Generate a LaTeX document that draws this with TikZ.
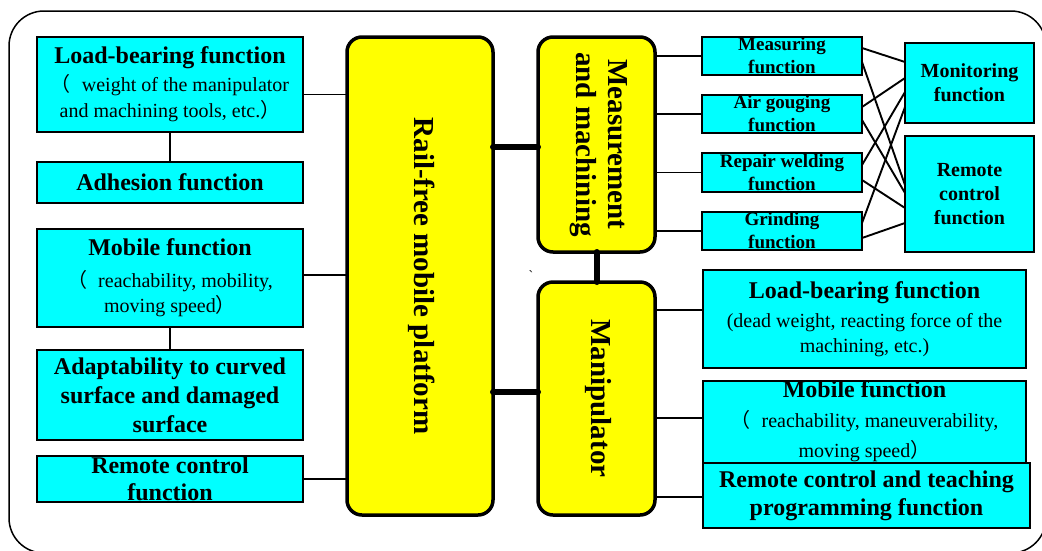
\documentclass[tikz,border=0pt]{standalone}
\usepackage{fontspec}
\setmainfont{Liberation Serif}
\newfontfamily\cjkfont{Noto Sans CJK SC}
\newcommand\flp{{\cjkfont （}}
\newcommand\frp{{\cjkfont ）}}
\definecolor{boxcyan}{RGB}{0,255,255}
\definecolor{boxyellow}{RGB}{255,255,0}
\begin{document}
\begin{tikzpicture}[x=1pt,y=-1pt,
  fbox/.style={draw=black, line width=1.4pt, fill=boxcyan, inner sep=0pt, outer sep=0pt, align=center, anchor=north west},
  ybox/.style={draw=black, line width=3.5pt, fill=boxyellow, rounded corners=15pt, inner sep=0pt, outer sep=0pt, anchor=north west},
  link/.style={draw=black, line width=1.9pt},
  thicklink/.style={draw=black, line width=6pt, line cap=round},
  vlabel/.style={rotate=-90, align=center, font=\fontsize{29}{32}\selectfont\bfseries},
  bigb/.style={font=\fontsize{24}{26}\selectfont\bfseries},
  smallb/.style={font=\fontsize{19}{23}\selectfont\bfseries},
  midb/.style={font=\fontsize{20}{24}\selectfont\bfseries},
]
\useasboundingbox (0,0) rectangle (1042,550);
\clip (0,0) rectangle (1042,550);
\draw[line width=1.5pt, rounded corners=35pt] (9,11) rectangle (1046,553);

% left column
\node[fbox, minimum width=266pt, minimum height=95pt, font=\fontsize{20}{26}\selectfont] (lbL) at (37,37)
  {{\fontsize{24}{26}\selectfont\bfseries Load-bearing function}\\[2pt]
   \flp\hspace{6pt} weight of the manipulator\\ and machining tools, etc.\frp};
\node[fbox, bigb, minimum width=266pt, minimum height=41pt] (adh) at (37,162) {Adhesion function};
\node[fbox, minimum width=266pt, minimum height=98pt, font=\fontsize{20}{25}\selectfont] (mobL) at (37,229)
  {{\fontsize{24}{26}\selectfont\bfseries Mobile function}\\[7pt]
   \flp\hspace{6pt} reachability, mobility,\\ moving speed\frp};
\node[fbox, minimum width=266pt, minimum height=90pt, font=\fontsize{24}{29}\selectfont\bfseries] (adapt) at (37,350)
  {Adaptability to curved\\ surface and damaged\\ surface};
\node[fbox, minimum width=266pt, minimum height=46pt, font=\fontsize{24}{27}\selectfont\bfseries] (rcL) at (37,456)
  {Remote control\\ function};

% yellow blocks
\node[ybox, minimum width=146pt, minimum height=478pt] (plat) at (347,37) {};
\node[vlabel] (platT) at ([xshift=2pt]plat.center) {Rail-free mobile platform};
\node[ybox, minimum width=117pt, minimum height=215pt] (meas) at (538,37) {};
\node[vlabel] (measT) at ([xshift=2pt]meas.center) {Measurement\\ and machining};
\node[ybox, minimum width=117pt, minimum height=233pt] (manip) at (538,282) {};
\node[vlabel] (manipT) at ([xshift=2pt]manip.center) {Manipulator};

% right small boxes
\node[fbox, smallb, minimum width=160pt, minimum height=38pt] (m1) at (702,37) {Measuring\\ function};
\node[fbox, smallb, minimum width=160pt, minimum height=38pt] (m2) at (702,95) {Air gouging\\ function};
\node[fbox, smallb, minimum width=160pt, minimum height=39pt] (m3) at (702,153) {Repair welding\\ function};
\node[fbox, smallb, minimum width=160pt, minimum height=38pt] (m4) at (702,212) {Grinding\\ function};
\node[fbox, midb, minimum width=129pt, minimum height=80pt] (mon) at (905,43) {Monitoring\\ function};
\node[fbox, midb, minimum width=129pt, minimum height=116pt] (rcR) at (905,136) {Remote\\ control\\ function};

% bottom right boxes
\node[fbox, minimum width=323pt, minimum height=98pt, font=\fontsize{20}{25}\selectfont] (rlb) at (703,270)
  {{\fontsize{24}{26}\selectfont\bfseries Load-bearing function}\\[4pt]
   (dead weight, reacting force of the\\ machining, etc.)};
\node[fbox, minimum width=323pt, minimum height=75pt, font=\fontsize{20}{30}\selectfont] (rmob) at (703,381)
  {{\fontsize{24}{26}\selectfont\bfseries Mobile function}\\
   \flp\hspace{6pt} reachability, maneuverability,\\ moving speed\frp};
\node[fbox, minimum width=327pt, minimum height=65pt, font=\fontsize{24}{28}\selectfont\bfseries] (rrc) at (703,463)
  {Remote control and teaching\\ programming function};

\node[font=\fontsize{14}{14}\selectfont, inner sep=0pt] (tick) at (531,276) {\textasciigrave};

% left connectors
\coordinate (c1) at ([yshift=-10pt]lbL.east);
\draw[link] (c1) -- (c1 -| plat.west);
\coordinate (c2) at ([yshift=3pt]mobL.east);
\draw[link] (c2) -- (c2 -| plat.west);
\draw[link] (rcL.east) -- (rcL.east -| plat.west);
\draw[link] (lbL.south) -- (adh.north);
\draw[link] (mobL.south) -- (adapt.north);

% thick connectors
\coordinate (t1) at ([yshift=-2.5pt]meas.west);
\draw[thicklink] (t1 -| plat.east) -- (t1);
\coordinate (t2) at ([yshift=6.5pt]manip.west);
\draw[thicklink] (t2 -| plat.east) -- (t2);
\draw[thicklink] (meas.south) -- (manip.north);

% measurement to tasks
\draw[link] (m1.west -| meas.east) -- (m1.west);
\draw[link] (m2.west -| meas.east) -- (m2.west);
\draw[link] (m3.west -| meas.east) -- (m3.west);
\draw[link] (m4.west -| meas.east) -- (m4.west);

% manipulator to functions
\coordinate (r1) at ([yshift=9pt]rlb.west);
\draw[link] (r1 -| manip.east) -- (r1);
\coordinate (r2) at ([yshift=3.5pt]rmob.west);
\draw[link] (r2 -| manip.east) -- (r2);
\coordinate (r3) at ([yshift=-1.5pt]rrc.west);
\draw[link] (r3 -| manip.east) -- (r3);

% cross connectors
\draw[link] ([yshift=8pt]m1.east) -- ([yshift=21pt]mon.west);
\draw[link] ([yshift=-6pt]m1.east) -- ([yshift=9pt]rcR.west);
\draw[link] ([yshift=7pt]m2.east) -- ([yshift=5pt]mon.west);
\draw[link] ([yshift=-6pt]m2.east) -- ([yshift=1pt]rcR.west);
\draw[link] ([yshift=7.5pt]m3.east) -- ([yshift=-9pt]mon.west);
\draw[link] ([yshift=-7.5pt]m3.east) -- ([yshift=-14pt]rcR.west);
\draw[link] ([yshift=8pt]m4.east) -- ([yshift=-24pt]mon.west);
\draw[link] ([yshift=-7pt]m4.east) -- ([yshift=-29pt]rcR.west);
\end{tikzpicture}
\end{document}
